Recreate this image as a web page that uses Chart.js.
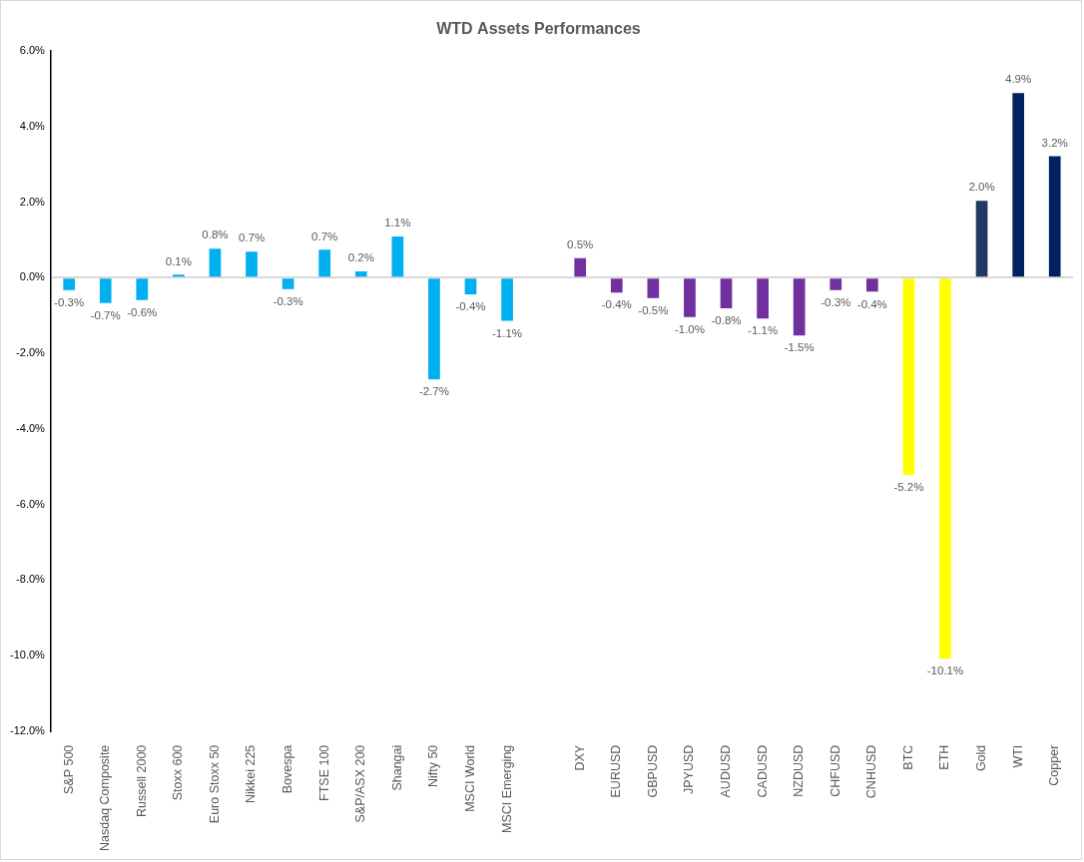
<!DOCTYPE html>
<html>
<head>
<meta charset="utf-8">
<script src="https://cdn.jsdelivr.net/npm/chart.js@4.4.1/dist/chart.umd.min.js"></script>
<style>
  body { margin: 0; background: #fff; }
  #grafico { display: block; border: 1px solid #d9d9d9; }
</style>
</head>
<body>
<canvas id="grafico" width="1082" height="860"></canvas>
<script>
// Dados do gráfico (variação semanal, %)
const categorias = [
  'S&P 500', 'Nasdaq Composite', 'Russell 2000', 'Stoxx 600', 'Euro Stoxx 50', 'Nikkei 225',
  'Bovespa', 'FTSE 100', 'S&P/ASX 200', 'Shangai', 'Nifty 50', 'MSCI World', 'MSCI Emerging',
  '',
  'DXY', 'EURUSD', 'GBPUSD', 'JPYUSD', 'AUDUSD', 'CADUSD', 'NZDUSD', 'CHFUSD', 'CNHUSD',
  'BTC', 'ETH', 'Gold', 'WTI', 'Copper'
];
const valores = [
  -0.33, -0.67, -0.59, 0.08, 0.77, 0.69,
  -0.30, 0.74, 0.17, 1.09, -2.69, -0.44, -1.14,
  null,
  0.52, -0.39, -0.54, -1.04, -0.81, -1.08, -1.53, -0.33, -0.37,
  -5.22, -10.08, 2.04, 4.89, 3.22
];
const grupos = [
  'acoes', 'acoes', 'acoes', 'acoes', 'acoes', 'acoes',
  'acoes', 'acoes', 'acoes', 'acoes', 'acoes', 'acoes', 'acoes',
  'vazio',
  'moedas', 'moedas', 'moedas', 'moedas', 'moedas', 'moedas', 'moedas', 'moedas', 'moedas',
  'cripto', 'cripto', 'ouro', 'commodities', 'commodities'
];
const yTicks = [-12, -10, -8, -6, -4, -2, 0, 2, 4, 6];

const coresGrupo = {
  acoes: '#00B0F0',
  vazio: 'transparent',
  moedas: '#7030A0',
  cripto: '#FFFF00',
  ouro: '#1F3864',
  commodities: '#002060'
};

const fonte = '"Liberation Sans", Arial, sans-serif';
const cinza = '#595959';

// Plugin simples para escrever os valores nas barras
const rotulosValores = {
  id: 'rotulosValores',
  afterDatasetsDraw(chart) {
    const ctx = chart.ctx;
    const meta = chart.getDatasetMeta(0);
    ctx.save();
    ctx.font = '11.5px ' + fonte;
    ctx.fillStyle = cinza;
    ctx.textAlign = 'center';
    ctx.textBaseline = 'middle';
    meta.data.forEach((bar, i) => {
      const v = valores[i];
      if (v === null) return;
      const y = v >= 0 ? bar.y - 13 : bar.y + 13;
      ctx.fillText(v.toFixed(1) + '%', bar.x, y);
    });
    ctx.restore();
  }
};

const ctx = document.getElementById('grafico').getContext('2d');
new Chart(ctx, {
  type: 'bar',
  data: {
    labels: categorias,
    datasets: [{
      data: valores,
      backgroundColor: grupos.map(g => coresGrupo[g]),
      barPercentage: 0.32,
      categoryPercentage: 1
    }]
  },
  options: {
    responsive: false,
    animation: false,
    layout: { padding: { top: 0, right: 8, left: 3, bottom: 2 } },
    plugins: {
      legend: { display: false },
      tooltip: { enabled: false },
      title: {
        display: true,
        text: 'WTD Assets Performances',
        color: cinza,
        font: { family: fonte, size: 16, weight: 'bold' },
        padding: { top: 19, bottom: 12 }
      }
    },
    scales: {
      x: {
        grid: { display: false },
        border: { display: false },
        ticks: {
          color: cinza,
          font: { family: fonte, size: 12.5 },
          minRotation: 90,
          maxRotation: 90,
          autoSkip: false,
          padding: 6
        }
      },
      y: {
        min: yTicks[0],
        max: yTicks[yTicks.length - 1],
        afterBuildTicks(axis) {
          axis.ticks = yTicks.map(v => ({ value: v }));
        },
        grid: {
          drawTicks: false,
          lineWidth: 2,
          color: c => (c.tick && c.tick.value === 0) ? '#d9d9d9' : 'transparent'
        },
        border: { display: true, color: '#000', width: 1.5 },
        ticks: {
          color: '#000',
          font: { family: fonte, size: 11 },
          padding: 6,
          callback: v => v.toFixed(1) + '%'
        }
      }
    }
  },
  plugins: [rotulosValores]
});
</script>
</body>
</html>
